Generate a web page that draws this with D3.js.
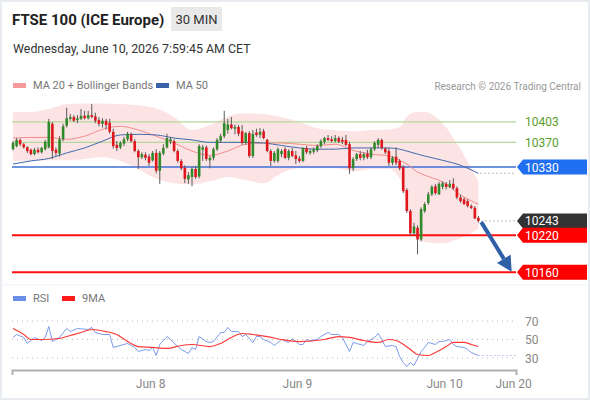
<!DOCTYPE html>
<html>
<head>
<meta charset="utf-8">
<script src="https://cdn.jsdelivr.net/npm/d3@7"></script>
<style>
  body { margin: 0; background: #fff; }
  svg text { font-family: Roboto, "Liberation Sans", Arial, sans-serif; }
</style>
</head>
<body>
<script>
// 30 min bars: [open, high, low, close]
var ohlc = [
  [10359,10372,10357,10369],[10364,10377,10362,10374],[10374,10376,10364,10367],[10367,10369,10360,10362],
  [10362,10364,10353,10356],[10358,10360,10349,10351],[10351,10361,10349,10358],[10358,10362,10352,10354],
  [10354,10363,10352,10361],[10359,10374,10357,10371],[10362,10408,10360,10403],[10400,10403,10343,10356],
  [10358,10362,10348,10353],[10352,10380,10347,10375],[10375,10400,10372,10396],[10397,10426,10394,10409],
  [10408,10416,10405,10411],[10411,10414,10403,10405],[10406,10414,10401,10409],[10408,10424,10406,10413],
  [10413,10421,10407,10409],[10409,10421,10407,10414],[10414,10432,10409,10411],[10412,10418,10401,10405],
  [10406,10411,10396,10400],[10400,10409,10394,10405],[10405,10408,10391,10398],[10402,10408,10384,10387],
  [10387,10392,10360,10364],[10366,10372,10356,10361],[10362,10372,10359,10369],[10368,10379,10364,10375],
  [10375,10387,10372,10384],[10383,10386,10370,10372],[10372,10375,10354,10356],[10356,10359,10327,10346],
  [10346,10354,10343,10351],[10350,10354,10341,10345],[10347,10351,10332,10337],[10341,10356,10339,10353],
  [10353,10359,10320,10324],[10324,10356,10303,10353],[10352,10367,10349,10361],[10362,10384,10360,10377],
  [10372,10379,10367,10375],[10372,10375,10354,10356],[10356,10359,10337,10340],[10340,10343,10325,10328],
  [10329,10333,10304,10311],[10310,10322,10303,10317],[10314,10330,10299,10327],[10327,10332,10311,10314],
  [10315,10367,10312,10364],[10358,10366,10340,10362],[10362,10365,10340,10343],[10341,10348,10328,10345],
  [10345,10362,10341,10359],[10359,10377,10356,10374],[10373,10384,10369,10380],[10380,10421,10377,10401],
  [10390,10408,10384,10399],[10399,10411,10391,10393],[10392,10399,10383,10395],[10395,10398,10380,10384],
  [10388,10398,10366,10369],[10369,10387,10366,10385],[10385,10388,10345,10348],[10348,10390,10345,10384],
  [10386,10392,10379,10382],[10382,10393,10377,10387],[10388,10392,10375,10377],[10374,10376,10354,10356],
  [10356,10359,10332,10340],[10340,10356,10337,10353],[10340,10362,10337,10359],[10351,10359,10346,10356],
  [10359,10362,10343,10345],[10345,10359,10341,10356],[10356,10361,10346,10348],[10349,10356,10335,10343],
  [10344,10348,10337,10340],[10340,10362,10338,10361],[10361,10364,10351,10354],[10353,10359,10350,10356],
  [10355,10362,10351,10359],[10357,10367,10354,10364],[10364,10375,10361,10372],[10371,10379,10367,10377],
  [10377,10382,10372,10374],[10375,10380,10370,10372],[10372,10382,10370,10377],[10377,10380,10369,10371],
  [10374,10379,10367,10371],[10374,10382,10364,10366],[10367,10371,10319,10328],[10328,10346,10324,10343],
  [10343,10353,10340,10351],[10351,10356,10341,10345],[10345,10354,10341,10351],[10352,10358,10343,10346],
  [10346,10362,10343,10359],[10359,10372,10356,10369],[10366,10377,10361,10374],[10374,10376,10358,10361],
  [10360,10362,10351,10354],[10356,10361,10332,10337],[10337,10348,10333,10345],[10347,10362,10333,10337],
  [10340,10343,10325,10328],[10330,10333,10288,10291],[10293,10296,10256,10259],[10259,10262,10220,10223],
  [10223,10240,10220,10234],[10232,10236,10189,10213],[10213,10265,10210,10262],[10259,10273,10256,10270],
  [10272,10290,10269,10286],[10286,10301,10283,10298],[10299,10303,10285,10288],[10286,10306,10285,10303],
  [10298,10307,10294,10304],[10303,10306,10294,10298],[10298,10309,10296,10303],[10303,10312,10293,10296],
  [10296,10299,10278,10281],[10281,10285,10272,10275],[10278,10281,10269,10270],[10275,10278,10265,10267],
  [10267,10270,10262,10264],[10264,10267,10246,10247],[10248,10251,10240,10243]
];

// indicator readings at bar indexes
var bandIdx = [0,5,10,15,20,25,30,35,40,45,50,55,60,65,70,75,80,85,90,95,100,105,108,110,113,115,120,125,130];
var bbUpper = [10420,10419,10424,10432,10433,10433,10432,10430,10425,10411,10390,10398,10412,10417,10416,10411,10403,10393,10390,10388,10390,10391,10395,10412,10419,10419,10401,10359,10307];
var bbLower = [10340,10340,10341,10341,10343,10346,10340,10327,10311,10304,10302,10307,10314,10309,10304,10320,10328,10328,10328,10323,10327,10327,10311,10267,10214,10209,10207,10215,10230];
var ma20    = [10377,10378,10378,10375,10380,10391,10396,10390,10380,10369,10356,10349,10356,10367,10369,10369,10367,10365,10367,10357,10351,10348,10341,10335,10322,10317,10306,10285,10270];
var ma50    = [10335,10340,10344,10353,10361,10372,10382,10383,10382,10377,10374,10370,10370,10370,10369,10365,10361,10359,10359,10361,10361,10361,10359,10356,10351,10348,10341,10333,10320];

var rsiIdx = [0,1,3,4,6,8,9,10,11,13,15,16,18,21,22,23,25,27,28,32,34,35,37,38,39,40,41,43,44,46,47,49,50,51,52,54,55,56,58,59,60,61,63,64,65,67,68,69,70,72,73,75,77,78,80,81,82,83,85,86,88,89,91,92,94,95,96,98,99,101,102,103,104,106,107,108,109,110,111,112,114,115,116,118,119,120,121,122,123,124,126,127,128,130];
var rsiVal = [52.2,55.4,52.2,45.7,52.2,48.9,52.2,64.1,47.8,52.2,61.9,58.6,61.9,60.8,63.0,57.6,55.4,55.4,41.4,45.7,41.4,37.0,39.2,38.1,41.4,32.7,44.6,53.2,50.0,42.4,39.2,34.9,41.4,39.2,53.2,47.8,46.8,47.8,57.6,57.6,63.0,58.6,58.6,53.2,55.4,46.8,53.2,53.2,50.0,46.8,43.5,50.0,46.8,51.1,44.6,44.6,50.0,48.9,50.0,53.2,57.6,55.4,55.4,52.2,37.0,46.8,45.7,43.5,47.8,52.2,56.5,50.0,42.4,43.5,42.4,31.6,25.1,20.8,25.1,21.9,37.0,41.4,46.8,44.6,47.8,47.8,48.9,50.0,44.6,42.4,41.4,39.2,35.9,32.7];
var ma9Idx = [0,3,5,8,13,15,19,22,26,29,32,35,39,43,47,50,55,58,61,64,67,71,75,80,87,91,94,98,102,105,107,111,113,116,118,121,123,126,128,130];
var ma9Val = [61.9,55.4,50.0,50.0,51.1,53.2,57.6,60.8,58.6,55.4,47.8,42.4,41.4,40.3,43.5,44.6,42.4,45.7,52.2,56.5,55.4,53.2,50.0,47.8,50.0,53.2,52.2,48.9,46.8,50.0,48.9,39.2,33.8,32.7,35.9,42.4,46.8,46.8,44.6,42.4];

var levelValues = [10403, 10370, 10330, 10243, 10220, 10160];
var levelKinds  = ['res', 'res', 'ma', 'last', 'sup', 'sup'];
var rsiLevels = [70, 50, 30];
var dayLabels = ['Jun 8', 'Jun 9', 'Jun 10', 'Jun 20'];
var dayIdx    = [38.3, 79.3, 120.4, 139.7];
var targetPath = [[130.8, 10241], [139.3, 10161]];

var W = 590, H = 400;
var left = 12, right = 516;

var x = d3.scaleLinear().domain([0, ohlc.length - 1]).range([13, 478.4]);
var xAxisScale = d3.scaleLinear().domain([x.invert(left), x.invert(right)]).range([left, right]);
var y = d3.scaleLinear().domain([10141, 10445]).range([284, 96]);
var yR = d3.scaleLinear().domain([30, 70]).range([358, 321]);

var svg = d3.select('body').append('svg')
  .attr('width', W)
  .attr('height', H);

svg.append('rect')
  .attr('x', 1).attr('y', 1)
  .attr('width', W - 2).attr('height', H - 2)
  .attr('fill', '#fff')
  .attr('stroke', '#e8ebef')
  .attr('stroke-width', 2);

// header
svg.append('text').attr('x', 12).attr('y', 25)
  .style('font-size', '15px').style('font-weight', 'bold').attr('fill', '#222')
  .text('FTSE 100 (ICE Europe)');
svg.append('rect').attr('x', 171).attr('y', 7).attr('width', 51).attr('height', 24).attr('fill', '#e9e9e9');
svg.append('text').attr('x', 196.5).attr('y', 24).attr('text-anchor', 'middle')
  .style('font-size', '13px').attr('fill', '#333').text('30 MIN');
svg.append('text').attr('x', 13).attr('y', 53)
  .style('font-size', '12.4px').attr('fill', '#333')
  .text('Wednesday, June 10, 2026 7:59:45 AM CET');

// legends
function legendItem(lx, ly, color, label) {
  svg.append('rect').attr('x', lx).attr('y', ly - 5).attr('width', 13).attr('height', 5).attr('fill', color);
  svg.append('text').attr('x', lx + 20).attr('y', ly + 1)
    .style('font-size', '11px').attr('fill', '#777').text(label);
}
legendItem(13, 88, '#f59a9a', 'MA 20 + Bollinger Bands');
legendItem(156, 88, '#3a62a8', 'MA 50');
svg.append('text').attr('x', 581).attr('y', 90).attr('text-anchor', 'end')
  .style('font-size', '10px').attr('fill', '#999').text('Research \u00a9 2026 Trading Central');

var main = svg.append('g');

// bollinger band
var bands = bandIdx.map(function(d, k) {
  return {i: d, up: bbUpper[k], lo: bbLower[k], m20: ma20[k], m50: ma50[k]};
});
main.append('path')
  .datum(bands)
  .attr('fill', '#fde4e4')
  .attr('d', d3.area()
    .x(function(d) { return x(d.i); })
    .y0(function(d) { return y(d.lo); })
    .y1(function(d) { return y(d.up); })
    .curve(d3.curveMonotoneX));

// level lines
var levelColor = {res: '#b5d89a', ma: '#3d6fd6', last: 'none', sup: '#ff1010'};
levelValues.forEach(function(v, k) {
  var kind = levelKinds[k];
  if (kind === 'last') return;
  main.append('line')
    .attr('x1', left).attr('x2', right)
    .attr('y1', y(v)).attr('y2', y(v))
    .attr('stroke', levelColor[kind])
    .attr('stroke-width', kind === 'sup' ? 2 : (kind === 'ma' ? 1.5 : 1.3));
});

main.append('path')
  .datum(bands)
  .attr('fill', 'none').attr('stroke', '#f28c8c').attr('stroke-width', 1)
  .attr('d', d3.line().x(function(d) { return x(d.i); }).y(function(d) { return y(d.m20); }).curve(d3.curveMonotoneX));
main.append('path')
  .datum(bands)
  .attr('fill', 'none').attr('stroke', '#4169ad').attr('stroke-width', 1)
  .attr('d', d3.line().x(function(d) { return x(d.i); }).y(function(d) { return y(d.m50); }).curve(d3.curveMonotoneX));

// projections of last values
var lastBar = ohlc[ohlc.length - 1];
main.append('line')
  .attr('x1', x(ohlc.length - 1) + 3).attr('x2', right)
  .attr('y1', y(lastBar[3])).attr('y2', y(lastBar[3]))
  .attr('stroke', '#777').attr('stroke-dasharray', '1,3');
main.append('line')
  .attr('x1', x(bandIdx[bandIdx.length - 1]) + 2).attr('x2', right)
  .attr('y1', y(ma50[ma50.length - 1])).attr('y2', y(ma50[ma50.length - 1]))
  .attr('stroke', '#777').attr('stroke-dasharray', '1,3');

// candles
var candle = main.selectAll('g.candle')
  .data(ohlc)
  .enter().append('g')
  .attr('class', 'candle');
candle.append('line')
  .attr('x1', function(d, i) { return x(i); })
  .attr('x2', function(d, i) { return x(i); })
  .attr('y1', function(d) { return y(d[1]); })
  .attr('y2', function(d) { return y(d[2]); })
  .attr('stroke', '#5a5a5a').attr('stroke-width', 1);
candle.append('rect')
  .attr('x', function(d, i) { return x(i) - 1.3; })
  .attr('width', 2.6)
  .attr('y', function(d) { return y(Math.max(d[0], d[3])); })
  .attr('height', function(d) { return Math.max(1, Math.abs(y(d[0]) - y(d[3]))); })
  .attr('fill', function(d) { return d[3] >= d[0] ? '#2f8a2a' : '#e0161c'; });

// target arrow
var a0 = [x(targetPath[0][0]), y(targetPath[0][1])],
  a1 = [x(targetPath[1][0]), y(targetPath[1][1])];
var ang = Math.atan2(a1[1] - a0[1], a1[0] - a0[0]);
var headLen = 15, headW = 8;
var base = [a1[0] - headLen * Math.cos(ang), a1[1] - headLen * Math.sin(ang)];
main.append('line')
  .attr('x1', a0[0]).attr('y1', a0[1])
  .attr('x2', base[0]).attr('y2', base[1])
  .attr('stroke', '#2f5fa6').attr('stroke-width', 4);
main.append('path')
  .attr('fill', '#2f5fa6')
  .attr('d', 'M' + a1[0] + ',' + a1[1] +
    'L' + (base[0] + headW * Math.sin(ang)) + ',' + (base[1] - headW * Math.cos(ang)) +
    'L' + (base[0] - headW * Math.sin(ang)) + ',' + (base[1] + headW * Math.cos(ang)) + 'Z');

// level labels
var tagColor = {ma: '#1f6ff0', last: '#333333', sup: '#ff0000'};
levelValues.forEach(function(v, k) {
  var kind = levelKinds[k], ly = y(v);
  if (kind === 'res') {
    svg.append('text').attr('x', 525).attr('y', ly + 4.5)
      .style('font-size', '12px').attr('fill', '#5b9e2a').text(v);
    return;
  }
  svg.append('path')
    .attr('fill', tagColor[kind])
    .attr('d', 'M' + (right + 1) + ',' + ly + 'L' + (right + 7) + ',' + (ly - 7.5) + 'L587,' + (ly - 7.5) +
      'L587,' + (ly + 7.5) + 'L' + (right + 7) + ',' + (ly + 7.5) + 'Z');
  svg.append('text').attr('x', 525).attr('y', ly + 4.5)
    .style('font-size', '12px').attr('fill', '#fff').text(v);
});

// panel separator
svg.append('line').attr('x1', 3).attr('x2', W - 3).attr('y1', 285).attr('y2', 285)
  .attr('stroke', '#eef1f5').attr('stroke-width', 1);

// RSI panel
legendItem(13, 301, '#6b8ee8', 'RSI');
legendItem(62, 301, '#ff1a1a', '9MA');

rsiLevels.forEach(function(v) {
  svg.append('line')
    .attr('x1', left).attr('x2', right)
    .attr('y1', yR(v)).attr('y2', yR(v))
    .attr('stroke', '#bbb').attr('stroke-dasharray', '1,4');
  svg.append('text').attr('x', 525).attr('y', yR(v) + 4.5)
    .style('font-size', '12px').attr('fill', '#888').text(v);
});

var rsiPts = rsiIdx.map(function(d, k) { return [x(d), yR(rsiVal[k])]; });
var ma9Pts = ma9Idx.map(function(d, k) { return [x(d), yR(ma9Val[k])]; });

svg.append('path')
  .attr('fill', 'none').attr('stroke', '#7b9aec').attr('stroke-width', 1)
  .attr('d', d3.line()(rsiPts));
svg.append('line')
  .attr('x1', rsiPts[rsiPts.length - 1][0]).attr('x2', right)
  .attr('y1', rsiPts[rsiPts.length - 1][1]).attr('y2', rsiPts[rsiPts.length - 1][1])
  .attr('stroke', '#7b9aec').attr('stroke-dasharray', '1,3');
svg.append('path')
  .attr('fill', 'none').attr('stroke', '#ff3a3a').attr('stroke-width', 1.2)
  .attr('d', d3.line().curve(d3.curveMonotoneX)(ma9Pts));

// time axis
var xAxis = d3.axisBottom(xAxisScale)
  .tickValues(dayIdx)
  .tickSize(0)
  .tickSizeOuter(5)
  .tickPadding(9)
  .tickFormat(function(d, k) { return dayLabels[k]; });

var gx = svg.append('g')
  .attr('transform', 'translate(0,370)')
  .call(xAxis);
gx.select('.domain').attr('stroke', '#b0b0b0').attr('stroke-width', 2);
gx.selectAll('text')
  .style('font-size', '12px')
  .style('font-family', 'Roboto, "Liberation Sans", Arial, sans-serif')
  .attr('fill', '#888');
</script>
</body>
</html>
